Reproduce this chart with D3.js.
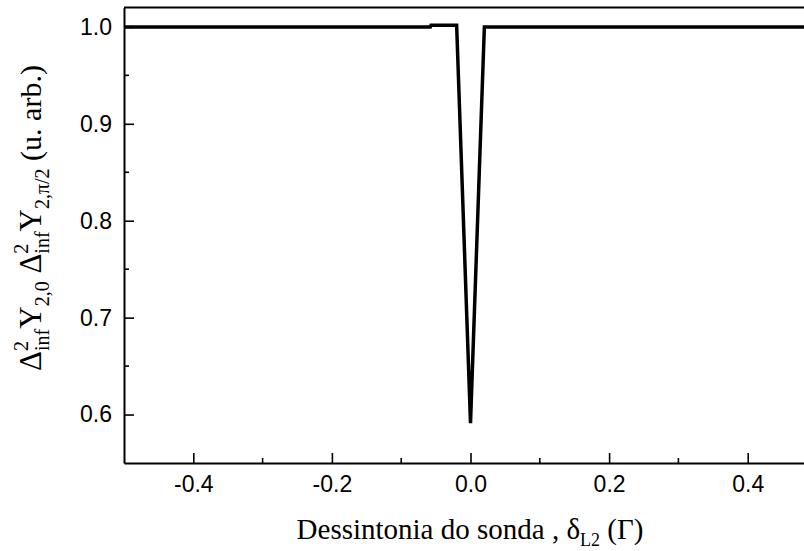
<!DOCTYPE html>
<html>
<head>
<meta charset="utf-8">
<script src="https://cdn.jsdelivr.net/npm/d3@7"></script>
<style>
body { margin: 0; background: #fff; overflow: hidden; }
</style>
</head>
<body>
<div id="chart-area"></div>
<script>
// curve
var detuning = [-0.5, -0.058, -0.057, -0.02, 0.0, 0.02, 0.5];
var signal = [1.0, 1.0, 1.0016, 1.0017, 0.591, 1.0, 1.0];
var xMajor = [-0.4, -0.2, 0.0, 0.2, 0.4];
var xMinor = [-0.3, -0.1, 0.1, 0.3];
var yMajor = [0.6, 0.7, 0.8, 0.9, 1.0];
var yMinor = [0.65, 0.75, 0.85, 0.95];

var margin = {top: 7.5, left: 124, bottom: 88};
var width = 693;
var height = 551 - margin.top - margin.bottom;

var svg = d3.select("#chart-area").append("svg")
	.attr("width", 804)
	.attr("height", 551);

var group = svg.append("g")
	.attr("transform", "translate(" + margin.left + "," + margin.top + ")");

var x = d3.scaleLinear()
	.domain([-0.5, 0.5])
	.range([0, width]);
var y = d3.scaleLinear()
	.domain([0.55, 1.02])
	.range([height, 0]);

var sansFont = "'Liberation Sans', Arial, sans-serif";
var serifFont = "'Liberation Serif', 'Times New Roman', serif";
var fmt = (d)=>{return d.toFixed(1);};

// bottom axis, ticks pointing in
var bottomAxis = d3.axisBottom(x).tickValues(xMajor).tickSizeInner(-10).tickSizeOuter(0)
	.tickPadding(20).tickFormat(fmt);
var gx = group.append("g")
	.attr("transform", "translate(0," + height + ")")
	.call(bottomAxis);
gx.append("g").selectAll("line").data(xMinor).enter().append("line")
	.attr("x1", (d)=>{return x(d);}).attr("x2", (d)=>{return x(d);})
	.attr("y1", 0).attr("y2", -5).attr("stroke", "#000");

var leftAxis = d3.axisLeft(y).tickValues(yMajor).tickSizeInner(-10).tickSizeOuter(0)
	.tickPadding(12).tickFormat(fmt);
var gy = group.append("g").call(leftAxis);
gy.append("g").selectAll("line").data(yMinor).enter().append("line")
	.attr("y1", (d)=>{return y(d);}).attr("y2", (d)=>{return y(d);})
	.attr("x1", 0).attr("x2", 5).attr("stroke", "#000");

[gx, gy].forEach((g)=>{
	g.selectAll("path").attr("stroke", "#000").attr("stroke-width", 2);
	g.selectAll("line").attr("stroke", "#000").attr("stroke-width", 1.6);
	g.selectAll("text").attr("font-family", sansFont).attr("font-size", "23px").attr("fill", "#000");
});
gx.selectAll(".tick text").attr("dy", "0.71em").attr("y", 13);

// top and right border
group.append("line")
	.attr("x1", 0).attr("x2", width).attr("y1", 0).attr("y2", 0)
	.attr("stroke", "#000").attr("stroke-width", 2);
group.append("line")
	.attr("x1", width).attr("x2", width).attr("y1", 0).attr("y2", height)
	.attr("stroke", "#000").attr("stroke-width", 2);

var line = d3.line()
	.x((d, i)=>{return x(detuning[i]);})
	.y((d)=>{return y(d);});
group.append("path")
	.attr("d", line(signal))
	.attr("fill", "none")
	.attr("stroke", "#000")
	.attr("stroke-width", 3.5)
	.attr("stroke-linejoin", "miter");

// x label
var xl = svg.append("text")
	.attr("x", 470)
	.attr("y", 539)
	.attr("text-anchor", "middle")
	.attr("font-family", serifFont)
	.attr("font-size", "29px")
	.attr("fill", "#000");
xl.append("tspan").text("Dessintonia do sonda , δ");
xl.append("tspan").attr("font-size", "18px").attr("dy", 7).text("L2");
xl.append("tspan").attr("dy", -7).text(" (Γ)");

// y label, built from pieces
var yl = svg.append("text")
	.attr("transform", "translate(41,218) rotate(-90)")
	.attr("text-anchor", "middle")
	.attr("font-family", serifFont)
	.attr("font-size", "30px")
	.attr("fill", "#000");
var parts = [
	["Δ", 31, 0], ["2", 20, -13], ["inf", 20, 21], ["Y", 31, -8], ["2,0", 20, 8],
	[" Δ", 31, -8], ["2", 20, -13], ["inf", 20, 21], ["Y", 31, -8], ["2,π/2", 20, 8], [" (u. arb.)", 30, -8]
];
parts.forEach((p, i)=>{
	var t = yl.append("tspan").attr("font-size", p[1] + "px").attr("dy", p[2]).text(p[0]);
	if (p[0] == "inf") t.attr("dx", -10);
});
</script>
</body>
</html>
